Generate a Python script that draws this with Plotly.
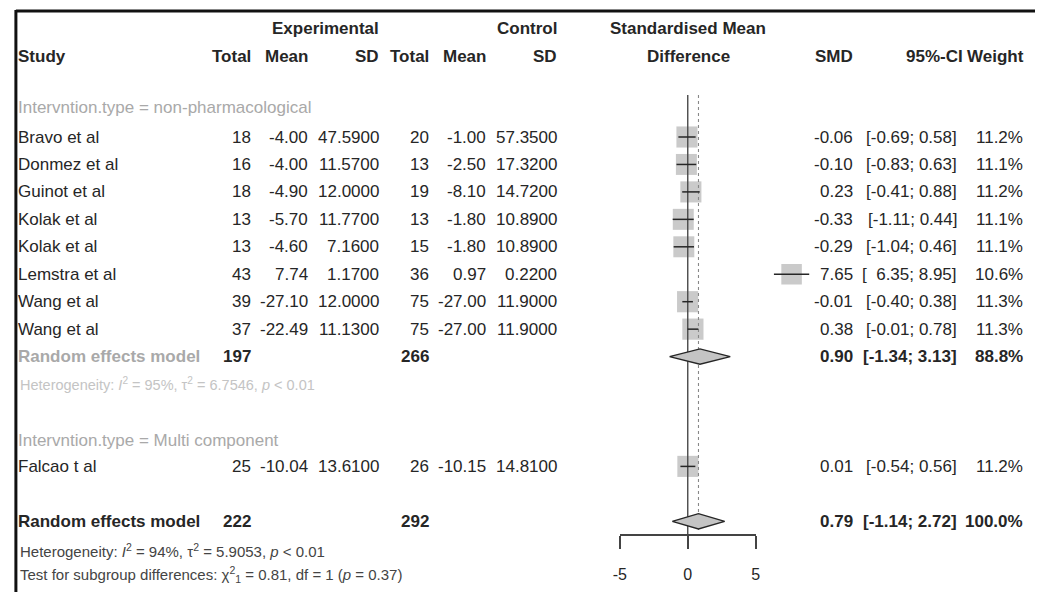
import math
import plotly.graph_objects as go

# ---------------- data ----------------
studies = ["Bravo et al", "Donmez et al", "Guinot et al", "Kolak et al", "Kolak et al",
           "Lemstra et al", "Wang et al", "Wang et al", "Falcao t al"]
exp_total = [18, 16, 18, 13, 13, 43, 39, 37, 25]
exp_mean = [-4.00, -4.00, -4.90, -5.70, -4.60, 7.74, -27.10, -22.49, -10.04]
exp_sd = [47.59, 11.57, 12.00, 11.77, 7.16, 1.17, 12.00, 11.13, 13.61]
ctl_total = [20, 13, 19, 13, 15, 36, 75, 75, 26]
ctl_mean = [-1.00, -2.50, -8.10, -1.80, -1.80, 0.97, -27.00, -27.00, -10.15]
ctl_sd = [57.35, 17.32, 14.72, 10.89, 10.89, 0.22, 11.90, 11.90, 14.81]
smd = [-0.06, -0.10, 0.23, -0.33, -0.29, 7.65, -0.01, 0.38, 0.01]
ci_lo = [-0.69, -0.83, -0.41, -1.11, -1.04, 6.35, -0.40, -0.01, -0.54]
ci_hi = [0.58, 0.63, 0.88, 0.44, 0.46, 8.95, 0.38, 0.78, 0.56]
weight = [11.2, 11.1, 11.2, 11.1, 11.1, 10.6, 11.3, 11.3, 11.2]

subgroups = ["Intervntion.type = non-pharmacological", "Intervntion.type = Multi component"]
re_labels = ["Random effects model", "Random effects model"]
re_exp_total = [197, 222]
re_ctl_total = [266, 292]
re_smd = [0.90, 0.79]
re_lo = [-1.34, -1.14]
re_hi = [3.13, 2.72]
re_weight = [88.8, 100.0]
het_texts = [
    "Heterogeneity: <i>I</i><sup>2</sup> = 95%, τ<sup>2</sup> = 6.7546, <i>p</i> &lt; 0.01",
    "Heterogeneity: <i>I</i><sup>2</sup> = 94%, τ<sup>2</sup> = 5.9053, <i>p</i> &lt; 0.01",
]
test_text = "Test for subgroup differences: χ<sup>2</sup><sub>1</sub> = 0.81, df = 1 (<i>p</i> = 0.37)"
tick_vals = [-5, 0, 5]
tick_text = ["-5", "0", "5"]

# ---------------- layout constants ----------------
W, H = 1040, 592
ZERO_PX, UNIT_PX = 688.7, 13.73
ROW0_PX, ROW_PX = 137.0, 27.45
FONT = "Liberation Sans, Arial, sans-serif"
FS = 17
TXT = "#262626"
GREY = "#a9a9a9"

study_rows = [0, 1, 2, 3, 4, 5, 6, 7, 12]
sub_rows = [-1.06, 11.04]
re_rows = [8, 14]
het_rows = [9.0, 15.08]
test_row = 15.92

col_px = dict(etot=248, emean=306, esd=377, ctot=428, cmean=486, csd=557,
              smd=857, ci=962, w=1029)

fig = go.Figure()

# squares
fig.add_trace(go.Scatter(
    x=smd, y=study_rows, mode="markers",
    marker=dict(symbol="square", size=[6.3 * math.sqrt(w) for w in weight],
                color="#b4b4b4", line=dict(width=0)),
    hoverinfo="skip"))

# reference lines
top_k = (95 - ROW0_PX) / ROW_PX
axis_k = (535 - ROW0_PX) / ROW_PX
fig.add_trace(go.Scatter(x=[0, 0], y=[top_k, axis_k], mode="lines",
                         line=dict(color="#4a4a4a", width=1.4), hoverinfo="skip"))
fig.add_trace(go.Scatter(x=[re_smd[1], re_smd[1]], y=[top_k, axis_k - 0.15], mode="lines",
                         line=dict(color="#888888", width=1.1, dash="dot"), hoverinfo="skip"))

# CI lines
cx, cy = [], []
for lo, hi, k in zip(ci_lo, ci_hi, study_rows):
    cx += [lo, hi, None]
    cy += [k, k, None]
fig.add_trace(go.Scatter(x=cx, y=cy, mode="lines",
                         line=dict(color="#262626", width=1.5), hoverinfo="skip"))

# diamonds
for est, lo, hi, k in zip(re_smd, re_lo, re_hi, re_rows):
    h = 0.28
    fig.add_trace(go.Scatter(x=[lo, est, hi, est, lo], y=[k, k - h, k, k + h, k],
                             mode="lines", fill="toself", fillcolor="#c4c4c4",
                             line=dict(color="#262626", width=1.4), hoverinfo="skip"))

# dummy trace for the bottom axis
fig.add_trace(go.Scatter(x=[None], y=[None], xaxis="x2", yaxis="y", showlegend=False))

ann = []


def txt(xp, k, s, anchor="right", bold=False, color=TXT, size=FS):
    if bold:
        s = "<b>" + s + "</b>"
    ann.append(dict(x=xp / W, y=k, xref="paper", yref="y", text=s, showarrow=False,
                    xanchor=anchor, yanchor="middle", borderpad=0,
                    font=dict(family=FONT, size=size, color=color)))


# headers
hk1, hk2 = -3.95, -2.93
txt(col_px["esd"], hk1, "Experimental", bold=True)
txt(col_px["csd"], hk1, "Control", bold=True)
txt(689, hk1, "Standardised Mean", anchor="center", bold=True)
txt(10, hk2, "Study", anchor="left", bold=True)
txt(col_px["etot"], hk2, "Total", bold=True)
txt(col_px["emean"], hk2, "Mean", bold=True)
txt(col_px["esd"], hk2, "SD", bold=True)
txt(col_px["ctot"], hk2, "Total", bold=True)
txt(col_px["cmean"], hk2, "Mean", bold=True)
txt(col_px["csd"], hk2, "SD", bold=True)
txt(689, hk2, "Difference", anchor="center", bold=True)
txt(col_px["smd"], hk2, "SMD", bold=True)
txt(968, hk2, "95%-CI", bold=True)
txt(1030, hk2, "Weight", bold=True)

# subgroup labels
for s, k in zip(subgroups, sub_rows):
    txt(10, k, s, anchor="left", color=GREY)

# study rows
NB = "\u2007"
for i, k in enumerate(study_rows):
    txt(10, k, studies[i], anchor="left")
    txt(col_px["etot"], k, str(exp_total[i]))
    txt(col_px["emean"], k, f"{exp_mean[i]:.2f}")
    txt(col_px["esd"], k, f"{exp_sd[i]:.4f}")
    txt(col_px["ctot"], k, str(ctl_total[i]))
    txt(col_px["cmean"], k, f"{ctl_mean[i]:.2f}")
    txt(col_px["csd"], k, f"{ctl_sd[i]:.4f}")
    txt(col_px["smd"], k, f"{smd[i]:.2f}")
    lo_s = f"{ci_lo[i]:.2f}"
    if ci_lo[i] >= 0:
        lo_s = NB + lo_s
    txt(col_px["ci"], k, f"[{lo_s}; {ci_hi[i]:.2f}]")
    txt(col_px["w"], k, f"{weight[i]:.1f}%")

# random effects rows
for j, k in enumerate(re_rows):
    txt(10, k, re_labels[j], anchor="left", bold=True, color=GREY if j == 0 else TXT)
    txt(col_px["etot"], k, str(re_exp_total[j]), bold=True)
    txt(col_px["ctot"], k, str(re_ctl_total[j]), bold=True)
    txt(col_px["smd"], k, f"{re_smd[j]:.2f}", bold=True)
    txt(col_px["ci"], k, f"[{re_lo[j]:.2f}; {re_hi[j]:.2f}]", bold=True)
    txt(col_px["w"], k, f"{re_weight[j]:.1f}%", bold=True)

txt(12, het_rows[0], het_texts[0], anchor="left", color="#c4c4c4", size=14.5)
txt(12, het_rows[1], het_texts[1], anchor="left", color="#444444", size=15)
txt(12, test_row, test_text, anchor="left", color="#444444", size=15)

# frame (top and left border)
shapes = [
    dict(type="line", xref="paper", yref="paper", x0=9 / W, x1=1.0,
         y0=1 - 11 / H, y1=1 - 11 / H, line=dict(color="#111111", width=3)),
    dict(type="line", xref="paper", yref="paper", x0=9 / W, x1=9 / W,
         y0=1 - 10 / H, y1=0, line=dict(color="#111111", width=3)),
]

y_top = -ROW0_PX / ROW_PX
y_bot = (H - ROW0_PX) / ROW_PX
x_left = -ZERO_PX / UNIT_PX
x_right = (W - ZERO_PX) / UNIT_PX

fig.update_layout(
    width=W, height=H, autosize=False,
    margin=dict(l=0, r=0, t=0, b=0, pad=0),
    paper_bgcolor="white", plot_bgcolor="rgba(0,0,0,0)",
    showlegend=False,
    xaxis=dict(range=[x_left, x_right], domain=[0, 1], visible=False, fixedrange=True),
    yaxis=dict(range=[y_bot, y_top], domain=[0, 1], visible=False, fixedrange=True),
    xaxis2=dict(
        domain=[(ZERO_PX - 5 * UNIT_PX) / W, (ZERO_PX + 5 * UNIT_PX) / W],
        range=[-5, 5], anchor="free", position=1 - 535 / H,
        showline=True, linecolor="#444444", linewidth=1.5,
        ticks="outside", ticklen=13, tickwidth=1.5, tickcolor="#444444",
        tickvals=tick_vals, ticktext=tick_text, ticklabelstandoff=12,
        tickfont=dict(family=FONT, size=16, color=TXT),
        showgrid=False, zeroline=False, fixedrange=True,
    ),
    annotations=ann,
    shapes=shapes,
)

fig.write_html("out.html")
